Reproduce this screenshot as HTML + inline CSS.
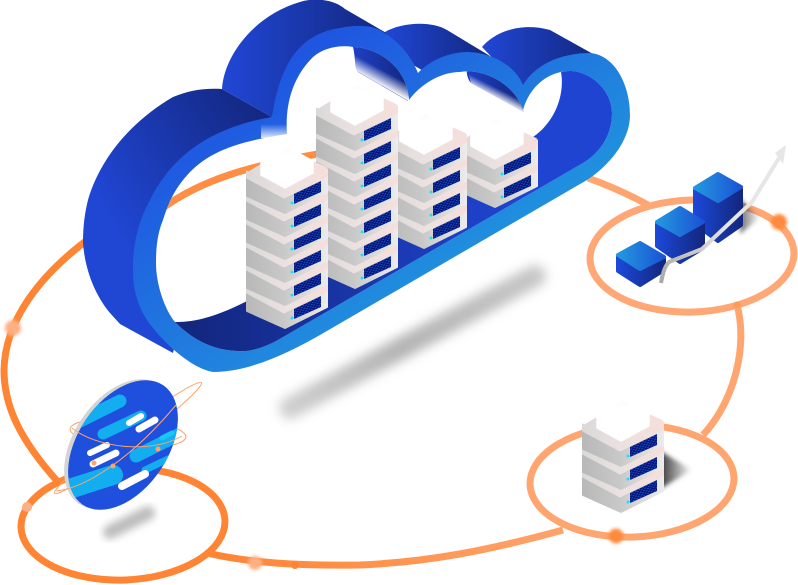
<!DOCTYPE html>
<html><head><meta charset="utf-8"><style>html,body{margin:0;padding:0;background:#fff}svg{display:block}</style></head><body>
<svg width="798" height="585" viewBox="0 0 798 585" xmlns="http://www.w3.org/2000/svg">
<defs>
<linearGradient id="band" gradientUnits="userSpaceOnUse" x1="230" y1="60" x2="420" y2="330"><stop offset="0" stop-color="#1f4ee0"/><stop offset="1" stop-color="#2096de"/></linearGradient>
<linearGradient id="la" gradientUnits="userSpaceOnUse" x1="95" y1="200" x2="262" y2="100"><stop offset="0" stop-color="#2046d4"/><stop offset="1" stop-color="#13277f"/></linearGradient>
<linearGradient id="lb" gradientUnits="userSpaceOnUse" x1="225" y1="0" x2="385" y2="0"><stop offset="0" stop-color="#2046d4"/><stop offset="1" stop-color="#13277f"/></linearGradient>
<linearGradient id="lc" gradientUnits="userSpaceOnUse" x1="385" y1="0" x2="490" y2="0"><stop offset="0" stop-color="#2046d4"/><stop offset="1" stop-color="#13277f"/></linearGradient>
<linearGradient id="ld" gradientUnits="userSpaceOnUse" x1="482" y1="0" x2="600" y2="0"><stop offset="0" stop-color="#2046d4"/><stop offset="1" stop-color="#13277f"/></linearGradient>
<linearGradient id="floor" gradientUnits="userSpaceOnUse" x1="190" y1="0" x2="520" y2="0"><stop offset="0" stop-color="#13277f"/><stop offset="1" stop-color="#1f44d2"/></linearGradient>
<linearGradient id="w1" gradientUnits="userSpaceOnUse" x1="353" y1="0" x2="410" y2="0"><stop offset="0" stop-color="#1f40c4"/><stop offset="1" stop-color="#12267c"/></linearGradient>
<linearGradient id="w2" gradientUnits="userSpaceOnUse" x1="467" y1="0" x2="523" y2="0"><stop offset="0" stop-color="#1f40c4"/><stop offset="1" stop-color="#12267c"/></linearGradient>
<linearGradient id="f1" gradientUnits="userSpaceOnUse" x1="390" y1="74" x2="383" y2="87"><stop offset="0" stop-color="#fff" stop-opacity="0"/><stop offset="1" stop-color="#fff"/></linearGradient>
<linearGradient id="f2" gradientUnits="userSpaceOnUse" x1="501" y1="90" x2="497" y2="98"><stop offset="0" stop-color="#fff" stop-opacity="0"/><stop offset="1" stop-color="#fff" stop-opacity=".85"/></linearGradient>
<linearGradient id="f3" x1="0" y1="0" x2="0" y2="1"><stop offset="0" stop-color="#fff" stop-opacity="0"/><stop offset="1" stop-color="#fff" stop-opacity=".85"/></linearGradient>
<linearGradient id="grey" gradientUnits="userSpaceOnUse" x1="-41" y1="0" x2="41" y2="0"><stop offset="0" stop-color="#b8b8b8"/><stop offset=".45" stop-color="#c8c8c8"/><stop offset="1" stop-color="#ececec"/></linearGradient>
<linearGradient id="pink" gradientUnits="userSpaceOnUse" x1="-41" y1="0" x2="41" y2="0"><stop offset="0" stop-color="#dad9d8"/><stop offset=".5" stop-color="#ebe2e0"/><stop offset="1" stop-color="#f6dedb"/></linearGradient>
<linearGradient id="hexg" x1="0" y1="0" x2="0" y2="1"><stop offset="0" stop-color="#fafafa"/><stop offset=".2" stop-color="#fff"/></linearGradient>
<pattern id="scr" patternUnits="userSpaceOnUse" width="4" height="3" patternTransform="rotate(-26)"><rect width="4" height="3" fill="#05107a"/><path d="M0,1H2M2,2.4H4" stroke="#1a66c8" stroke-width=".7"/></pattern>
<g id="u">
<path d="M-40,-37 L-3,-17 L40,-39 L40,-22 L-2,-1 L-40,-18Z" fill="url(#grey)" stroke="url(#grey)" stroke-width="2" stroke-linejoin="round"/>
<path d="M-40.5,-43 L-3,-23 L40.5,-45 L40.5,-38 L-3,-16 L-40.5,-36Z" fill="url(#pink)" stroke="url(#pink)" stroke-width="1" stroke-linejoin="round"/>
<path d="M7,-20 L34,-33 L34,-22 L7,-10Z" fill="url(#scr)"/>
<circle cx="5" cy="-11" r="1.5" fill="#1fe0f0"/>
</g>
<g id="top">
<path d="M-39,-41 L-26,-49 L26,-52 L39,-46 L-3,-23Z" fill="url(#pink)" stroke="url(#pink)" stroke-width="2" stroke-linejoin="round"/>
<path d="M-26,-51 L0,-67 L26,-53 L26,-41 L-2,-26 L-26,-39Z" fill="url(#hexg)" stroke="#fff" stroke-width="1.5" stroke-linejoin="round"/>
</g>
<linearGradient id="ora" gradientUnits="userSpaceOnUse" x1="220" y1="0" x2="600" y2="0"><stop offset="0" stop-color="#ff8534"/><stop offset="1" stop-color="#ffa670"/></linearGradient>
<linearGradient id="topf" x1="0" y1="0" x2="1" y2="0"><stop offset="0" stop-color="#2298de"/><stop offset="1" stop-color="#1c52d6"/></linearGradient>
<linearGradient id="sidef" x1="0" y1="0" x2="1" y2="0"><stop offset="0" stop-color="#1b48d6"/><stop offset="1" stop-color="#13277f"/></linearGradient>
<linearGradient id="arrow" gradientUnits="userSpaceOnUse" x1="661" y1="283" x2="720" y2="220"><stop offset="0" stop-color="#a8a8a8"/><stop offset="1" stop-color="#e6e6e6"/></linearGradient>
<linearGradient id="sh1" x1="0" y1="0" x2="1" y2="0"><stop offset="0" stop-color="#333"/><stop offset="1" stop-color="#333" stop-opacity="0"/></linearGradient>
<linearGradient id="bigsh" gradientUnits="userSpaceOnUse" x1="280" y1="410" x2="545" y2="270"><stop offset="0" stop-color="#d0d0d0"/><stop offset=".45" stop-color="#b4b4b4"/><stop offset="1" stop-color="#c8c8c8"/></linearGradient>
<filter id="b5" x="-20%" y="-40%" width="140%" height="180%"><feGaussianBlur stdDeviation="5.5"/></filter>
<filter id="b3" x="-30%" y="-60%" width="160%" height="220%"><feGaussianBlur stdDeviation="4"/></filter>
<filter id="b2" x="-60%" y="-60%" width="220%" height="220%"><feGaussianBlur stdDeviation="1.6"/></filter>
<filter id="b1" x="-30%" y="-30%" width="160%" height="160%"><feGaussianBlur stdDeviation="2"/></filter>
<clipPath id="hole"><path id="hp" d="M163,220 C168,205 173,190 190,172 C210,152 235,142 287,134 C285,105 292,78 313,57 C325,47 340,45 353,47 C375,47 407,65 409,100 C420,85 440,72 460,72 C485,68 515,85 523,110 C530,85 550,71 570,71 C590,71 612,90 612,113 C612,135 600,153 583,163 L278,340 C260,350 245,352 237,351 C215,350 195,342 175,322 C165,310 156,285 156,263 C156,245 158,232 163,220Z"/></clipPath>
<clipPath id="gl"><ellipse cx="123" cy="445" rx="45" ry="72" transform="rotate(34 123 445)"/></clipPath>
</defs>

<!-- shadows -->
<path d="M290,408 L535,276" stroke="url(#bigsh)" stroke-width="22" stroke-linecap="round" fill="none" filter="url(#b5)"/>
<path d="M110,532 L148,513" stroke="#bcbcbc" stroke-width="14" stroke-linecap="round" fill="none" filter="url(#b3)"/>

<!-- rings -->
<ellipse cx="123" cy="524" rx="102" ry="56" fill="none" stroke="#ff8534" stroke-width="7" transform="rotate(-2 123 524)"/>
<ellipse cx="692" cy="256" rx="102" ry="56" fill="none" stroke="#ffa875" stroke-width="7" transform="rotate(-2 692 256)"/>
<ellipse cx="632" cy="481" rx="102" ry="56" fill="none" stroke="#ffa670" stroke-width="7" transform="rotate(-2 632 481)"/>

<!-- connectors -->
<path d="M58,482 C22,442 4,408 4,370 C5,320 40,275 90,238" fill="none" stroke="#ff8534" stroke-width="7"/>
<path d="M588,178 C610,186 630,195 648,205" fill="none" stroke="#ffa670" stroke-width="7"/>
<path d="M737,305 C748,345 735,400 703,435" fill="none" stroke="#ffa670" stroke-width="7"/>
<path d="M207,553 C250,563 300,566 360,565 C430,562 490,550 563,530" fill="none" stroke="url(#ora)" stroke-width="7"/>

<!-- nodes -->
<circle cx="13" cy="328" r="8" fill="#ffb083" filter="url(#b2)"/>
<circle cx="27" cy="507" r="5" fill="#ffb083"/>
<circle cx="255" cy="563" r="7" fill="#ffb083" filter="url(#b2)"/>
<circle cx="295" cy="565" r="4" fill="#ff8534"/>
<circle cx="616" cy="536" r="7.5" fill="#ff8a3c" filter="url(#b2)"/>
<circle cx="779" cy="222" r="8" fill="#ff8a3c" filter="url(#b2)"/>
<circle cx="737" cy="305" r="3.5" fill="#ff9a5c"/>

<!-- cloud extrusion -->
<path d="M88,200 C98,165 125,125 173,97 C190,90 205,88 222,89 L272,117 L210,200 L173,353 L120,324 L110,313 C95,295 85,270 83,243 C83,225 85,212 88,200Z" fill="url(#la)"/>
<path d="M222,89 C224,55 255,15 300,2 C315,-3 335,0 345,9 L395,38 L350,60 L300,70 L272,117Z" fill="url(#lb)"/>
<path d="M385,32 C400,23 430,20 447,30 L490,56 L430,75 L405,60Z" fill="url(#lc)"/>
<path d="M482,47 C495,32 520,22 550,30 L602,59 L540,80 L523,90Z" fill="url(#ld)"/>

<!-- band outer -->
<path d="M272,117 C278,80 290,35 340,28 C360,24 375,26 383,32 C400,42 412,58 418,73 C430,60 450,52 467,52 C490,52 515,65 523,85 C535,65 560,53 590,53 C615,55 630,85 630,115 C630,140 610,165 587,180 L320,335 C290,352 250,372 213,372 C190,368 160,340 145,317 C133,295 133,280 133,267 C133,240 140,218 150,200 C165,170 195,130 272,117Z" fill="url(#band)"/>
<!-- hole -->
<use href="#hp" fill="#fff"/>
<g clip-path="url(#hole)">
<path d="M160,210 C200,180 250,165 330,152" fill="none" stroke="#ff8d44" stroke-width="7"/>
<path d="M353,47 C356,60 354,68 358,72 L408,101 C410,90 410,75 400,62 C390,50 370,42 353,47Z" fill="url(#w1)"/>
<path d="M350,40 L355,70 L412,103 L415,55Z" fill="url(#f1)"/>
<path d="M467,68 C466,74 468,80 471,83 L524,112 C520,95 505,78 485,70Z" fill="url(#w2)"/>
<path d="M467,68 L471,83 L524,112 L530,90Z" fill="url(#f2)"/>
<path d="M175,322 C190,322 210,320 247,301 L533,137 C555,122 565,95 561,72 L625,60 L640,200 L300,400 L150,350Z" fill="url(#floor)"/>
</g>
<rect x="261" y="124" width="26" height="14" fill="url(#f3)"/>

<!-- towers -->
<g transform="translate(497,208)"><use href="#u"/><use href="#u" y="-23"/><use href="#top" y="-23"/></g>
<g transform="translate(426,249)"><use href="#u"/><use href="#u" y="-23"/><use href="#u" y="-46"/><use href="#u" y="-69"/><use href="#top" y="-69"/></g>
<g transform="translate(357,289)"><use href="#u"/><use href="#u" y="-23"/><use href="#u" y="-46"/><use href="#u" y="-69"/><use href="#u" y="-92"/><use href="#u" y="-115"/><use href="#u" y="-138"/><use href="#top" y="-138"/></g>
<g transform="translate(287,329)"><use href="#u"/><use href="#u" y="-23"/><use href="#u" y="-46"/><use href="#u" y="-69"/><use href="#u" y="-92"/><use href="#u" y="-115"/><use href="#top" y="-115"/></g>

<!-- small server -->
<path d="M660,451 L692,470 L660,489Z" fill="url(#sh1)" filter="url(#b1)"/>
<g transform="translate(623,513)"><use href="#u"/><use href="#u" y="-23"/><use href="#u" y="-46"/><use href="#top" y="-46"/></g>

<!-- bars -->
<path d="M740,198 L760,218 L740,234Z" fill="url(#sh1)" opacity=".7" filter="url(#b1)"/>
<path d="M695,190 L718,205 L741,189 L741,225 L718,241 L695,224Z" fill="url(#sidef)" stroke="url(#sidef)" stroke-width="4" stroke-linejoin="round"/>
<path d="M718,174 L741,187 L718,201 L695,188Z" fill="url(#topf)" stroke="url(#topf)" stroke-width="4" stroke-linejoin="round"/>
<path d="M657,224 L680,239 L703,224 L703,248 L680,262 L657,246Z" fill="url(#sidef)" stroke="url(#sidef)" stroke-width="4" stroke-linejoin="round"/>
<path d="M680,208 L703,222 L680,235 L657,222Z" fill="url(#topf)" stroke="url(#topf)" stroke-width="4" stroke-linejoin="round"/>
<path d="M618,257 L640,273 L664,259 L664,270 L640,285 L618,271Z" fill="url(#sidef)" stroke="url(#sidef)" stroke-width="4" stroke-linejoin="round"/>
<path d="M640,243 L664,257 L640,269 L618,255Z" fill="url(#topf)" stroke="url(#topf)" stroke-width="4" stroke-linejoin="round"/>
<path d="M661,283 C663,272 665,266 669,262 L702,249 L752,202 L779,158" fill="none" stroke="url(#arrow)" stroke-width="4"/>
<path d="M786,145 L775,153 L783,164Z" fill="#e6e6e6"/>

<!-- globe -->
<ellipse cx="128" cy="433" rx="58" ry="14" fill="none" stroke="#ffa36b" stroke-width="1" transform="rotate(4 128 433)"/>
<ellipse cx="128" cy="438" rx="92" ry="8" fill="none" stroke="#ffa36b" stroke-width="1" transform="rotate(-37 128 438)"/>
<ellipse cx="119" cy="444" rx="45" ry="72" fill="#d4d4d4" transform="rotate(34 119 444)"/>
<ellipse cx="123" cy="445" rx="45" ry="72" fill="#1f4fdd" transform="rotate(34 123 445)"/>
<g clip-path="url(#gl)" stroke="#12aef0" stroke-linecap="round" fill="none">
<path d="M70,426 L120,401" stroke-width="13"/>
<path d="M103,434 L141,416" stroke-width="11"/>
<path d="M136,456 L180,434" stroke-width="13"/>
<path d="M145,470 L168,459" stroke-width="7"/>
<path d="M60,492 L113,475" stroke-width="20"/>
<path d="M162,438 L172,433" stroke="#17c8f5" stroke-width="5"/>
</g>
<g stroke="#fff" stroke-linecap="round" fill="none">
<path d="M129,423 L141,416" stroke-width="6"/>
<path d="M139,429 L155,420" stroke-width="7"/>
<path d="M90,453 L107,445" stroke-width="6"/>
<path d="M93,464 L116,453" stroke-width="7"/>
<path d="M122,486 L145,474" stroke-width="8"/>
</g>
<path d="M72,428 C95,447 150,455 182,436" fill="none" stroke="#ffa36b" stroke-width="1"/>
<path d="M56,491 C85,488 130,460 176,405" fill="none" stroke="#ffa36b" stroke-width="1"/>
<circle cx="158" cy="449" r="2.5" fill="#ffa36b"/>
<circle cx="113" cy="466" r="2.5" fill="#ffa36b"/>
<circle cx="94" cy="463" r="2.5" fill="#ffa36b"/>
</svg>
</body></html>
